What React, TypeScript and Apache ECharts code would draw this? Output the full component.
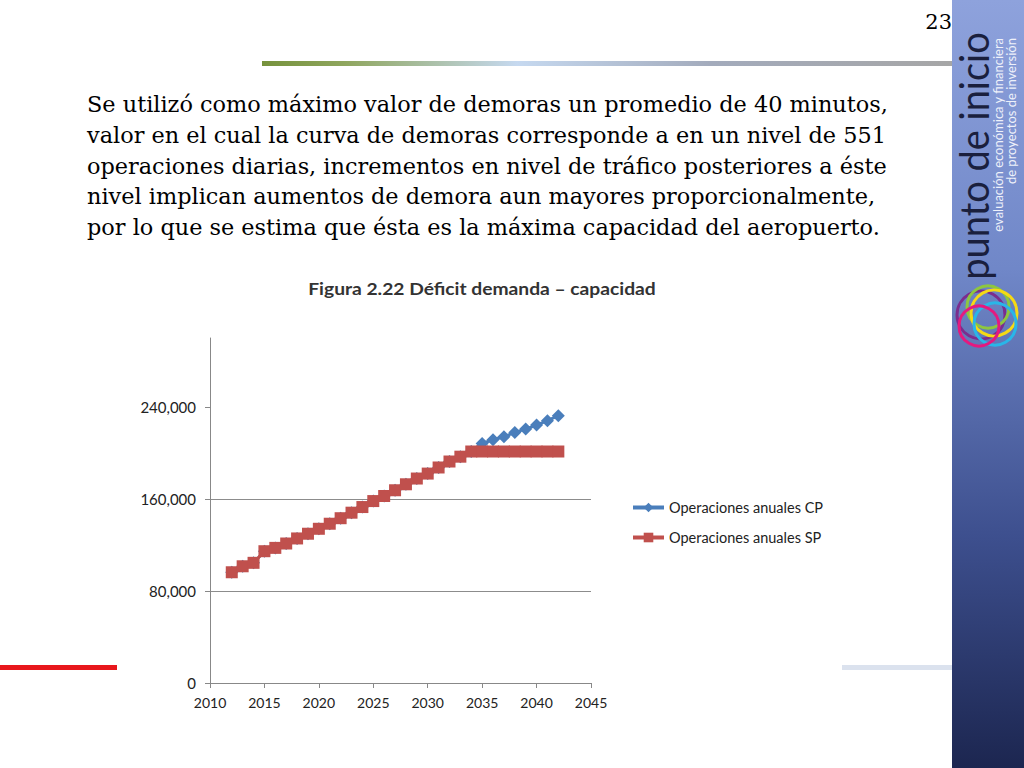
import React, { useEffect, useRef } from "react";
import * as echarts from "echarts";

const years = [
  2012, 2013, 2014, 2015, 2016, 2017, 2018, 2019, 2020, 2021, 2022, 2023, 2024, 2025, 2026, 2027,
  2028, 2029, 2030, 2031, 2032, 2033, 2034, 2035, 2036, 2037, 2038, 2039, 2040, 2041, 2042,
];
const operacionesCP = [
  96300, 101500, 104500, 114600, 117500, 121300, 125700, 129800, 134100, 138500, 143300, 148100,
  153000, 158200, 162600, 167600, 172800, 177800, 182100, 187400, 192600, 196800, 201300, 208300,
  211500, 214100, 217900, 220800, 224300, 228100, 232400,
];
const operacionesSP = [
  96300, 101500, 104500, 114600, 117500, 121300, 125700, 129800, 134100, 138500, 143300, 148100,
  153000, 158200, 162600, 167600, 172800, 177800, 182100, 187400, 192600, 196800, 201300, 201300,
  201300, 201300, 201300, 201300, 201300, 201300, 201300,
];
const seriesNames = ["Operaciones anuales CP", "Operaciones anuales SP"];
const yTickValues = [0, 80000, 160000, 240000];

const paragraphLines = [
  "Se utilizó como máximo valor de demoras un promedio de 40 minutos,",
  "valor en el cual la curva de demoras corresponde a en un nivel de 551",
  "operaciones diarias, incrementos en nivel de tráfico posteriores a éste",
  "nivel implican aumentos de demora aun mayores proporcionalmente,",
  "por lo que se estima que ésta es la máxima capacidad del aeropuerto.",
];
const chartTitle = "Figura 2.22 Déficit demanda – capacidad";
const slideNumber = "23";
const logoText = "punto de inicio";
const logoSub1 = "evaluación económica y financiera";
const logoSub2 = "de proyectos de inversión";

export default function App() {
  const ref = useRef<HTMLDivElement>(null);
  useEffect(() => {
    if (!ref.current) return;
    const chart = echarts.init(ref.current, null, { renderer: "svg" });
    const pair = (vals: number[]) => years.map((y, i) => [y, vals[i]]);
    const label = "Lato, 'Open Sans', sans-serif";

    const graphics: any[] = [];
    graphics.push({
      type: "rect",
      shape: { x: 952, y: 0, width: 72, height: 768 },
      style: {
        fill: new echarts.graphic.LinearGradient(0, 0, 0, 1, [
          { offset: 0, color: "#8ea2dc" },
          { offset: 0.35, color: "#7087c8" },
          { offset: 0.7, color: "#3d4f8e" },
          { offset: 1, color: "#1c2650" },
        ]),
      },
      z: 1,
    });
    graphics.push({
      type: "rect",
      shape: { x: 262, y: 61, width: 690, height: 5 },
      style: {
        fill: new echarts.graphic.LinearGradient(0, 0, 1, 0, [
          { offset: 0, color: "#76923c" },
          { offset: 0.12, color: "#8fa65e" },
          { offset: 0.37, color: "#c6d9f0" },
          { offset: 0.65, color: "#a3abbc" },
          { offset: 1, color: "#a6a6a6" },
        ]),
      },
      z: 1,
    });
    graphics.push({
      type: "rect",
      shape: { x: 0, y: 665, width: 117, height: 5 },
      style: { fill: "#e8171c" },
      z: 1,
    });
    graphics.push({
      type: "rect",
      shape: { x: 842, y: 665, width: 110, height: 5 },
      style: { fill: "#dbe2ee" },
      z: 1,
    });
    graphics.push({
      type: "text",
      x: 952,
      y: 22,
      style: {
        text: slideNumber,
        fontFamily: "'DejaVu Serif', serif",
        fontSize: 21,
        fill: "#000",
        align: "right",
        verticalAlign: "middle",
      },
      z: 5,
    });
    paragraphLines.forEach((t, i) => {
      graphics.push({
        type: "text",
        x: 87,
        y: 104 + i * 30.8,
        style: {
          text: t,
          fontFamily: "'DejaVu Serif', serif",
          fontSize: 22.4,
          fill: "#000",
          align: "left",
          verticalAlign: "middle",
        },
        z: 5,
      });
    });
    graphics.push({
      type: "text",
      x: 482,
      y: 288,
      scaleX: 1.1,
      style: {
        text: chartTitle,
        fontFamily: label,
        fontWeight: "bold",
        fontSize: 17.5,
        fill: "#333",
        align: "center",
        verticalAlign: "middle",
      },
      z: 5,
    });
    graphics.push({
      type: "text",
      x: 974,
      y: 156,
      rotation: Math.PI / 2,
      scaleY: 1.05,
      style: {
        text: logoText,
        fontFamily: label,
        fontSize: 38,
        fill: "#1a1f3d",
        align: "center",
        verticalAlign: "middle",
      },
      z: 5,
    });
    graphics.push({
      type: "text",
      x: 998,
      y: 38,
      rotation: Math.PI / 2,
      style: {
        text: logoSub1,
        fontFamily: label,
        fontSize: 13,
        fill: "#eef1fa",
        align: "right",
        verticalAlign: "middle",
      },
      z: 5,
    });
    graphics.push({
      type: "text",
      x: 1011,
      y: 38,
      rotation: Math.PI / 2,
      style: {
        text: logoSub2,
        fontFamily: label,
        fontSize: 13,
        fill: "#eef1fa",
        align: "right",
        verticalAlign: "middle",
      },
      z: 5,
    });
    const rings = [
      { cx: 981, cy: 315, r: 24, c: "#7b2d8e" },
      { cx: 988, cy: 307, r: 21, c: "#8dc63f" },
      { cx: 994, cy: 313, r: 23, c: "#f5d915" },
      { cx: 995, cy: 324, r: 21, c: "#29b6e8" },
      { cx: 979, cy: 326, r: 20, c: "#e5197f" },
    ];
    rings.forEach((g) => {
      graphics.push({
        type: "circle",
        shape: { cx: g.cx, cy: g.cy, r: g.r },
        style: { fill: "none", stroke: g.c, lineWidth: 3 },
        z: 4,
      });
    });

    chart.setOption({
      animation: false,
      backgroundColor: "#ffffff",
      textStyle: { fontFamily: label },
      graphic: { elements: graphics },
      grid: { left: 210, right: 433, top: 338, bottom: 85, containLabel: false },
      legend: {
        orient: "vertical",
        left: 626,
        top: 495,
        itemWidth: 31,
        itemHeight: 12,
        itemGap: 15,
        lineStyle: { width: 4 },
        textStyle: { fontFamily: label, fontSize: 14.5, color: "#222" },
        data: seriesNames,
      },
      xAxis: {
        type: "value",
        min: 2010,
        max: 2045,
        interval: 5,
        axisLine: { show: true, onZero: false, lineStyle: { color: "#888", width: 1 } },
        axisTick: { show: true, inside: false, length: 5, lineStyle: { color: "#888" } },
        axisLabel: {
          color: "#222",
          fontSize: 14,
          fontFamily: label,
          margin: 12,
          showMinLabel: true,
          showMaxLabel: true,
          formatter: (v: number) => String(v),
        },
        splitLine: { show: false },
      },
      yAxis: {
        type: "value",
        min: 0,
        max: 300000,
        interval: 80000,
        axisLine: { show: true, lineStyle: { color: "#888", width: 1 } },
        axisTick: {
          show: true,
          length: 5,
          lineStyle: { color: "#888" },
          customValues: yTickValues,
        },
        axisLabel: {
          color: "#222",
          fontSize: 15,
          fontFamily: label,
          margin: 14,
          customValues: yTickValues,
          formatter: (v: number) =>
            yTickValues.indexOf(v) >= 0 ? v.toLocaleString("en-US") : "",
        },
        splitLine: {
          show: true,
          showMinLine: false,
          showMaxLine: false,
          lineStyle: { color: "#8c8c8c", width: 1 },
        },
      },
      series: [
        {
          name: seriesNames[0],
          type: "line",
          data: pair(operacionesCP),
          symbol: "diamond",
          symbolSize: 13,
          lineStyle: { color: "#4a7ebb", width: 3 },
          itemStyle: { color: "#4a7ebb" },
          z: 2,
        },
        {
          name: seriesNames[1],
          type: "line",
          data: pair(operacionesSP),
          symbol: "rect",
          symbolSize: 12,
          lineStyle: { color: "#c0504d", width: 3 },
          itemStyle: { color: "#c0504d" },
          z: 3,
        },
      ],
    });
    return () => chart.dispose();
  }, []);
  return (
    <div
      ref={ref}
      style={{ position: "fixed", left: 0, top: 0, width: 1024, height: 768 }}
    />
  );
}
